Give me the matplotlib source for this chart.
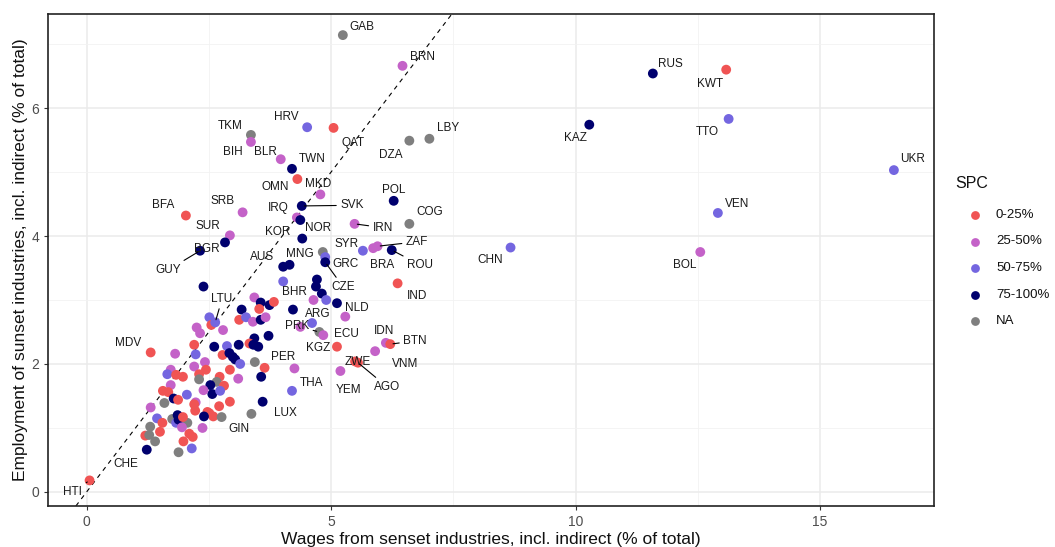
import matplotlib
matplotlib.use('Agg')
import matplotlib.pyplot as plt
from matplotlib.ticker import MultipleLocator

plt.rcParams['font.family'] = ['Liberation Sans', 'DejaVu Sans']

# ---------------- data ----------------
categories = ['0-25%', '25-50%', '50-75%', '75-100%', 'NA']
code_to_cat = {'R': '0-25%', 'P': '25-50%', 'B': '50-75%', 'N': '75-100%', 'G': 'NA'}

countries = ['GAB', 'BRN', 'RUS', 'KWT', 'TTO', 'KAZ', 'UKR', 'VEN', 'BOL', 'CHN',
             'HRV', 'QAT', 'TKM', 'BIH', 'BLR', 'TWN', 'OMN', 'MKD', 'DZA', 'LBY',
             'POL', 'COG', 'IRN', 'BFA', 'SRB', 'SVK', 'IRQ', 'NOR', 'KOR', 'SUR',
             'BGR', 'GUY', 'SYR', 'ZAF', 'BRA', 'ROU', 'AUS', 'MNG', 'GRC', 'CZE',
             'IND', 'NLD', 'ARG', 'PRK', 'KGZ', 'ECU', 'IDN', 'BTN', 'VNM', 'ZWE',
             'AGO', 'YEM', 'PER', 'THA', 'LUX', 'GIN', 'LTU', 'BHR', 'MDV', 'CHE',
             'HTI']
wages = [5.24, 6.46, 11.58, 13.08, 13.13, 10.28, 16.51, 12.91, 12.55, 8.67,
         4.51, 5.05, 3.36, 3.36, 3.97, 4.20, 4.31, 4.78, 6.60, 7.01,
         6.28, 6.60, 5.48, 2.03, 3.19, 4.40, 4.30, 4.37, 4.41, 2.93,
         2.83, 2.32, 5.65, 5.95, 5.86, 6.24, 4.02, 4.15, 4.88, 4.88,
         6.36, 5.29, 4.61, 4.76, 4.84, 5.12, 6.12, 6.21, 5.90, 5.49,
         5.55, 5.19, 4.25, 4.20, 3.60, 3.37, 2.63, 4.64, 1.31, 1.23,
         0.06]
employment = [7.14, 6.66, 6.54, 6.60, 5.83, 5.74, 5.03, 4.36, 3.75, 3.82,
              5.70, 5.69, 5.58, 5.47, 5.20, 5.05, 4.89, 4.65, 5.49, 5.52,
              4.55, 4.19, 4.19, 4.32, 4.37, 4.47, 4.29, 4.25, 3.96, 4.01,
              3.90, 3.77, 3.77, 3.84, 3.81, 3.78, 3.52, 3.55, 3.67, 3.59,
              3.26, 2.74, 2.64, 2.50, 2.45, 2.27, 2.33, 2.31, 2.20, 2.04,
              2.02, 1.89, 1.93, 1.58, 1.41, 1.22, 2.65, 3.00, 2.18, 0.66,
              0.18]
spc = ['G', 'P', 'N', 'R', 'B', 'N', 'B', 'B', 'P', 'B',
       'B', 'R', 'G', 'P', 'P', 'N', 'R', 'P', 'G', 'G',
       'N', 'G', 'P', 'R', 'P', 'N', 'P', 'N', 'N', 'P',
       'N', 'N', 'B', 'P', 'P', 'N', 'N', 'N', 'B', 'N',
       'R', 'P', 'B', 'G', 'P', 'R', 'P', 'R', 'P', 'R',
       'R', 'P', 'P', 'B', 'N', 'G', 'B', 'P', 'R', 'N',
       'R']

other_wages = [2.39, 4.02, 4.71, 4.69, 4.81, 4.90, 5.12, 3.43, 3.56, 3.74,
               3.83, 3.53, 3.17, 4.22, 3.12, 3.26, 3.40, 3.56, 3.66, 2.51,
               2.55, 2.79, 2.25, 2.32, 3.43, 3.72, 3.33, 3.41, 3.51, 2.61,
               2.87, 3.11, 2.20, 1.81, 2.23, 2.78, 2.92, 2.99, 3.04, 3.14,
               2.20, 2.42, 2.44, 2.30, 2.30, 1.72, 1.65, 1.83, 1.97, 3.44,
               3.64, 3.57, 3.10, 2.72, 2.66, 2.81, 2.53, 2.57, 2.39, 2.73,
               1.72, 1.56, 1.67, 1.78, 2.05, 1.87, 2.23, 1.31, 1.59, 2.20,
               2.22, 2.71, 2.93, 2.47, 2.59, 2.51, 2.40, 2.76, 1.44, 1.75,
               1.86, 1.83, 2.06, 1.55, 1.88, 1.97, 1.30, 1.50, 1.95, 2.37,
               2.10, 2.17, 1.20, 1.40, 1.98, 2.15, 1.88, 1.28, 4.83, 4.37,
               2.93]
other_employment = [3.21, 3.29, 3.32, 3.21, 3.10, 3.00, 2.95, 3.04, 2.96, 2.92,
                    2.97, 2.86, 2.85, 2.85, 2.69, 2.73, 2.66, 2.69, 2.73, 2.73,
                    2.61, 2.53, 2.57, 2.48, 2.40, 2.44, 2.32, 2.30, 2.27, 2.27,
                    2.28, 2.30, 2.30, 2.16, 2.15, 2.14, 2.17, 2.11, 2.07, 2.00,
                    1.96, 2.03, 1.91, 1.84, 1.76, 1.91, 1.84, 1.83, 1.80, 2.03,
                    1.94, 1.80, 1.77, 1.80, 1.72, 1.66, 1.67, 1.53, 1.59, 1.58,
                    1.67, 1.58, 1.56, 1.46, 1.52, 1.44, 1.40, 1.32, 1.39, 1.37,
                    1.27, 1.34, 1.41, 1.25, 1.18, 1.23, 1.18, 1.17, 1.15, 1.14,
                    1.20, 1.08, 1.08, 1.08, 1.13, 1.17, 1.02, 0.94, 1.01, 1.00,
                    0.91, 0.86, 0.88, 0.79, 0.79, 0.68, 0.62, 0.89, 3.75, 2.58,
                    1.91]
other_spc = ['N', 'B', 'N', 'N', 'N', 'B', 'N', 'P', 'N', 'N',
             'R', 'R', 'N', 'N', 'R', 'B', 'P', 'N', 'P', 'B',
             'R', 'P', 'P', 'P', 'N', 'N', 'R', 'N', 'N', 'N',
             'B', 'N', 'R', 'P', 'B', 'R', 'N', 'N', 'N', 'B',
             'P', 'P', 'R', 'R', 'G', 'P', 'B', 'R', 'R', 'G',
             'R', 'N', 'P', 'R', 'G', 'R', 'N', 'N', 'P', 'B',
             'P', 'R', 'R', 'N', 'B', 'R', 'P', 'P', 'G', 'R',
             'R', 'R', 'R', 'R', 'R', 'R', 'N', 'G', 'B', 'G',
             'N', 'B', 'G', 'R', 'N', 'R', 'G', 'R', 'P', 'P',
             'R', 'R', 'R', 'G', 'R', 'B', 'G', 'G', 'G', 'P',
             'R']

# ---------------- styling / layout ----------------
palette = {'0-25%': '#F05454', '25-50%': '#C462C8', '50-75%': '#7466E0',
           '75-100%': '#00006E', 'NA': '#7F7F7F'}

# label text positions (data coords, repelled layout) and which labels get a leader segment
label_pos = {
    'GAB': (5.63, 7.27), 'BRN': (6.87, 6.80), 'RUS': (11.93, 6.69), 'KWT': (12.75, 6.38),
    'TKM': (2.93, 5.72), 'HRV': (4.08, 5.86), 'QAT': (5.45, 5.45), 'LBY': (7.39, 5.69),
    'DZA': (6.23, 5.27), 'KAZ': (9.99, 5.53), 'TTO': (12.69, 5.63), 'UKR': (16.90, 5.20),
    'BIH': (2.98, 5.31), 'BLR': (3.65, 5.31), 'TWN': (4.61, 5.20), 'OMN': (3.85, 4.77),
    'MKD': (4.73, 4.81), 'POL': (6.27, 4.72), 'SVK': (5.43, 4.48), 'BFA': (1.56, 4.48),
    'SRB': (2.77, 4.55), 'IRQ': (3.92, 4.44), 'COG': (7.02, 4.38), 'VEN': (13.30, 4.50),
    'NOR': (4.73, 4.13), 'IRN': (6.06, 4.13), 'SUR': (2.48, 4.16), 'KOR': (3.90, 4.06),
    'SYR': (5.31, 3.88), 'ZAF': (6.76, 3.91), 'BGR': (2.46, 3.80), 'AUS': (3.59, 3.67),
    'MNG': (4.37, 3.72), 'GRC': (5.29, 3.56), 'BRA': (6.04, 3.55), 'ROU': (6.82, 3.55),
    'CHN': (8.25, 3.63), 'BOL': (12.24, 3.55), 'GUY': (1.67, 3.47), 'LTU': (2.77, 3.02),
    'CZE': (5.25, 3.20), 'BHR': (4.26, 3.13), 'IND': (6.76, 3.06), 'NLD': (5.53, 2.88),
    'ARG': (4.73, 2.78), 'PRK': (4.30, 2.59), 'IDN': (6.08, 2.52), 'BTN': (6.72, 2.36),
    'MDV': (0.85, 2.33), 'ECU': (5.31, 2.47), 'KGZ': (4.73, 2.25), 'PER': (4.02, 2.11),
    'ZWE': (5.55, 2.03), 'VNM': (6.51, 2.00), 'AGO': (6.15, 1.64), 'THA': (4.59, 1.70),
    'YEM': (5.35, 1.59), 'LUX': (4.06, 1.23), 'GIN': (3.12, 0.98), 'CHE': (0.81, 0.44),
    'HTI': (-0.28, 0.00),
}
leaders = {'SVK', 'IRN', 'ZAF', 'ROU', 'GUY', 'LTU', 'CZE', 'PRK', 'BTN', 'AGO', 'HTI'}

W, H = 1055, 547
fig = plt.figure(figsize=(W / 100, H / 100), dpi=100)
L, R, T, B = 48, 934, 14, 506
ax = fig.add_axes([L / W, 1 - B / H, (R - L) / W, (B - T) / H])

ax.set_xlim(-0.79, 17.33)
ax.set_ylim(-0.22, 7.47)

ax.xaxis.set_major_locator(MultipleLocator(5))
ax.xaxis.set_minor_locator(MultipleLocator(2.5))
ax.yaxis.set_major_locator(MultipleLocator(2))
ax.yaxis.set_minor_locator(MultipleLocator(1))
ax.grid(which='major', color='#EBEBEB', lw=1.1, zorder=0)
ax.grid(which='minor', color='#F2F2F2', lw=0.6, zorder=0)
ax.set_axisbelow(True)
ax.tick_params(which='minor', length=0)
ax.tick_params(which='major', length=3, color='#333333', labelcolor='#4D4D4D',
               labelsize=10, width=0.8)
for s in ax.spines.values():
    s.set_color('#222222')
    s.set_linewidth(1.2)

# 45-degree reference line
ax.axline((0, 0), slope=1, color='black', lw=0.8, ls=(0, (4, 4)), zorder=1)

# points
ax.scatter(other_wages, other_employment, s=50,
           c=[palette[code_to_cat[c]] for c in other_spc], linewidths=0, zorder=3)
ax.scatter(wages, employment, s=50,
           c=[palette[code_to_cat[c]] for c in spc], linewidths=0, zorder=3)

# labels
for name, xv, yv in zip(countries, wages, employment):
    tx, ty = label_pos[name]
    if name in leaders:
        ax.annotate(name, xy=(xv, yv), xytext=(tx, ty), fontsize=8.5, color='#1A1A1A',
                    ha='center', va='center', zorder=4,
                    arrowprops=dict(arrowstyle='-', color='black', lw=0.8,
                                    shrinkA=1, shrinkB=2))
    else:
        ax.text(tx, ty, name, fontsize=8.5, color='#1A1A1A', ha='center', va='center', zorder=4)

ax.set_xlabel('Wages from senset industries, incl. indirect (% of total)', fontsize=12.5,
              color='#111111', labelpad=2)
ax.set_ylabel('Employment of sunset industries, incl. indirect (% of total)', fontsize=12.5,
              color='#111111', labelpad=2)

# legend (manual, ggplot-style)
fig.text(955 / W, 1 - 184 / H, 'SPC', fontsize=11.5, ha='left', va='center', color='#111111')
for i, cat in enumerate(categories):
    py = 215 + 26.5 * i
    ax.scatter([975 / W], [1 - py / H], s=40, color=palette[cat], linewidths=0,
               transform=fig.transFigure, clip_on=False)
    fig.text(996 / W, 1 - py / H, cat, fontsize=9.5, ha='left', va='center', color='#111111')

fig.savefig('out.png', dpi=100)
